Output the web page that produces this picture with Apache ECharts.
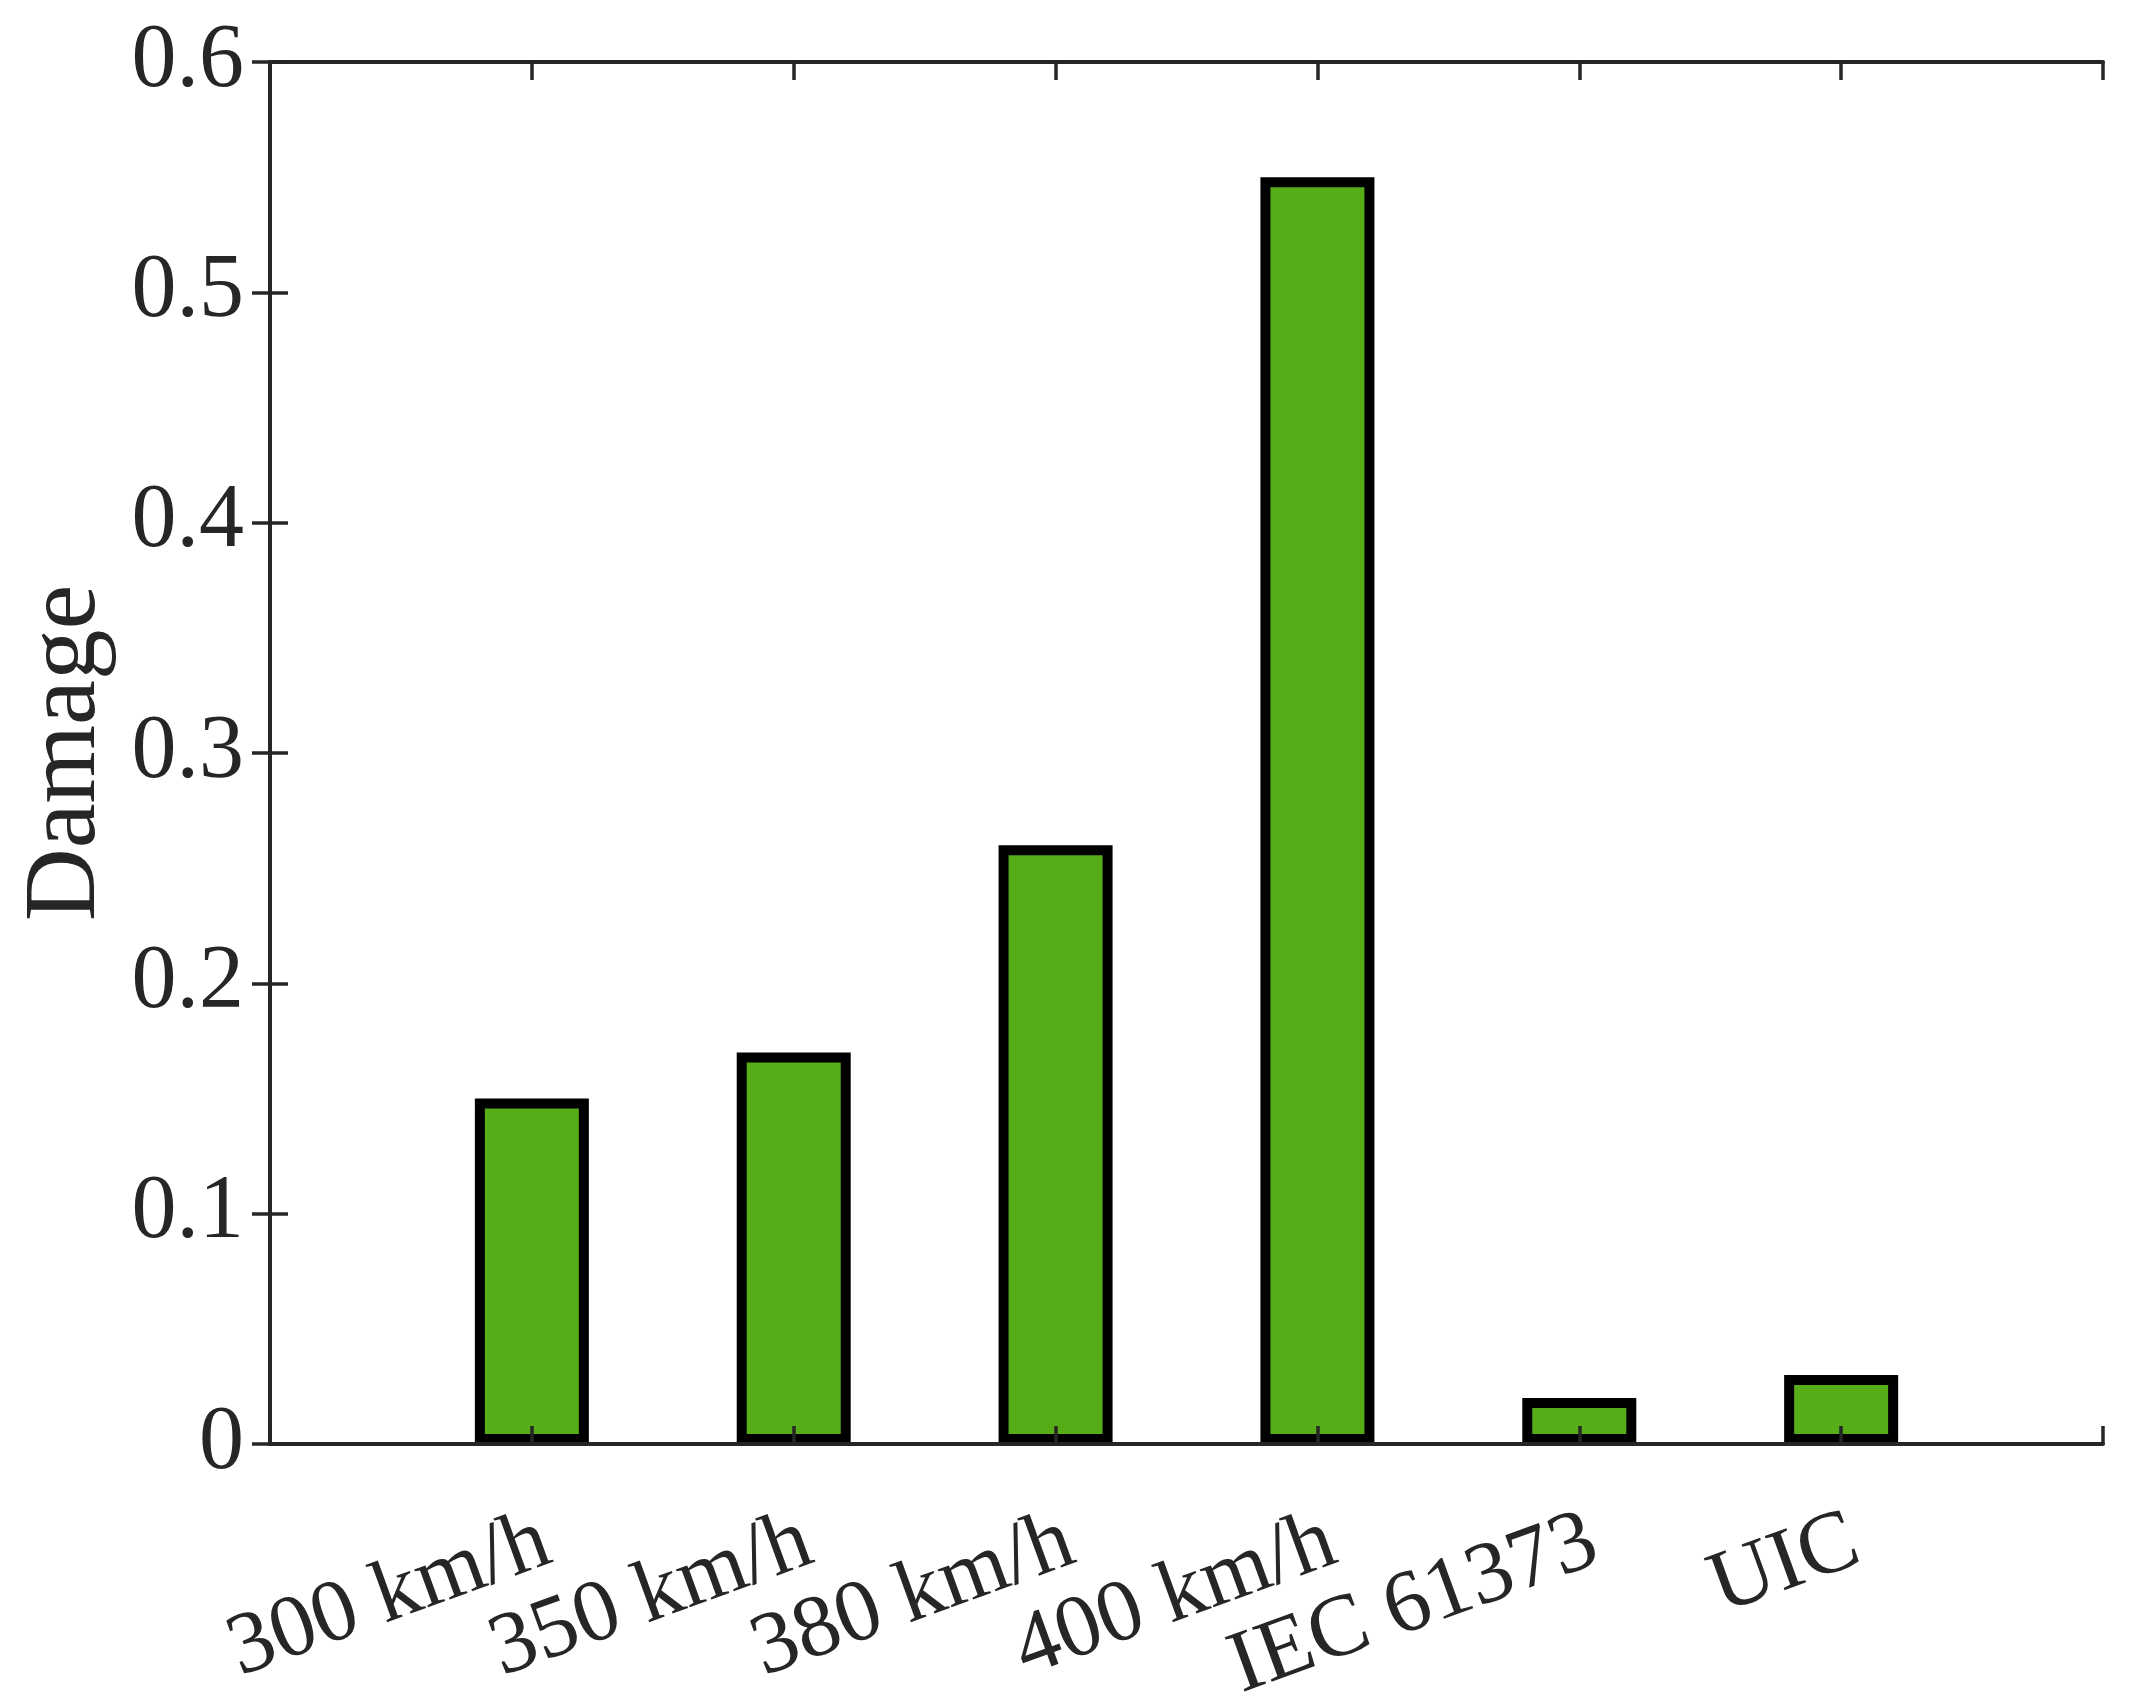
<!DOCTYPE html>
<html>
<head>
<meta charset="utf-8">
<script src="https://cdn.jsdelivr.net/npm/echarts@6/dist/echarts.min.js"></script>
<style>
  html, body { margin: 0; padding: 0; background: #fff; }
  #chart { width: 2131px; height: 1706px; }
</style>
</head>
<body>
<div id="chart"></div>
<script>
// categories along the x axis (placed at positions 1..6)
var categories = ['300 km/h', '350 km/h', '380 km/h', '400 km/h', 'IEC 61373', 'UIC'];
// damage values
var damage = [0.15, 0.17, 0.26, 0.55, 0.02, 0.03];
var yTicks = ['0', '0.1', '0.2', '0.3', '0.4', '0.5', '0.6'];

var font = "'Liberation Serif', 'Times New Roman', serif";
var ink = '#262626';

var chart = echarts.init(document.getElementById('chart'));

var barData = categories.map(function (c, i) {
    return [i + 1, damage[i]];
});

var xBase = {
    type: 'value',
    min: 0,
    max: categories.length + 1,
    interval: 1,
    z: 10,
    splitLine: { show: false },
    axisLine: { show: true, onZero: false, lineStyle: { color: ink, width: 4 } },
    axisTick: { show: true, inside: true, length: 18, lineStyle: { color: ink, width: 3.5 } }
};
var yBase = {
    type: 'value',
    min: 0,
    max: 0.6,
    interval: 0.1,
    z: 10,
    splitLine: { show: false },
    axisLine: { show: true, lineStyle: { color: ink, width: 4 } },
    axisTick: { show: true, inside: true, length: 18, lineStyle: { color: ink, width: 3.5 } }
};

chart.setOption({
    animation: false,
    backgroundColor: '#ffffff',
    grid: { left: 270, right: 28, top: 62, bottom: 262, containLabel: false, outerBoundsMode: 'none' },
    xAxis: [
        Object.assign({}, xBase, {
            position: 'bottom',
            axisLabel: {
                rotate: 20,
                margin: 101,
                padding: [0, -16, 0, 0],
                color: ink,
                fontFamily: font,
                fontSize: 88,
                formatter: function (v) { return categories[v - 1] || ''; }
            }
        }),
        Object.assign({}, xBase, { position: 'top', axisLabel: { show: false } })
    ],
    yAxis: [
        Object.assign({}, yBase, {
            position: 'left',
            name: 'Damage',
            nameLocation: 'middle',
            nameRotate: 90,
            nameGap: 152,
            nameTextStyle: { color: ink, fontFamily: font, fontSize: 101 },
            axisLabel: {
                margin: 26,
                color: ink,
                fontFamily: font,
                fontSize: 90,
                formatter: function (v) { return yTicks[Math.round(v * 10)]; }
            }
        }),
        Object.assign({}, yBase, { position: 'right', axisLabel: { show: false } })
    ],
    series: [
        {
            type: 'bar',
            xAxisIndex: 0,
            yAxisIndex: 0,
            barWidth: 114,
            data: barData,
            itemStyle: {
                color: '#57ad17',
                borderColor: '#000000',
                borderWidth: 10
            }
        }
    ]
});
</script>
</body>
</html>
